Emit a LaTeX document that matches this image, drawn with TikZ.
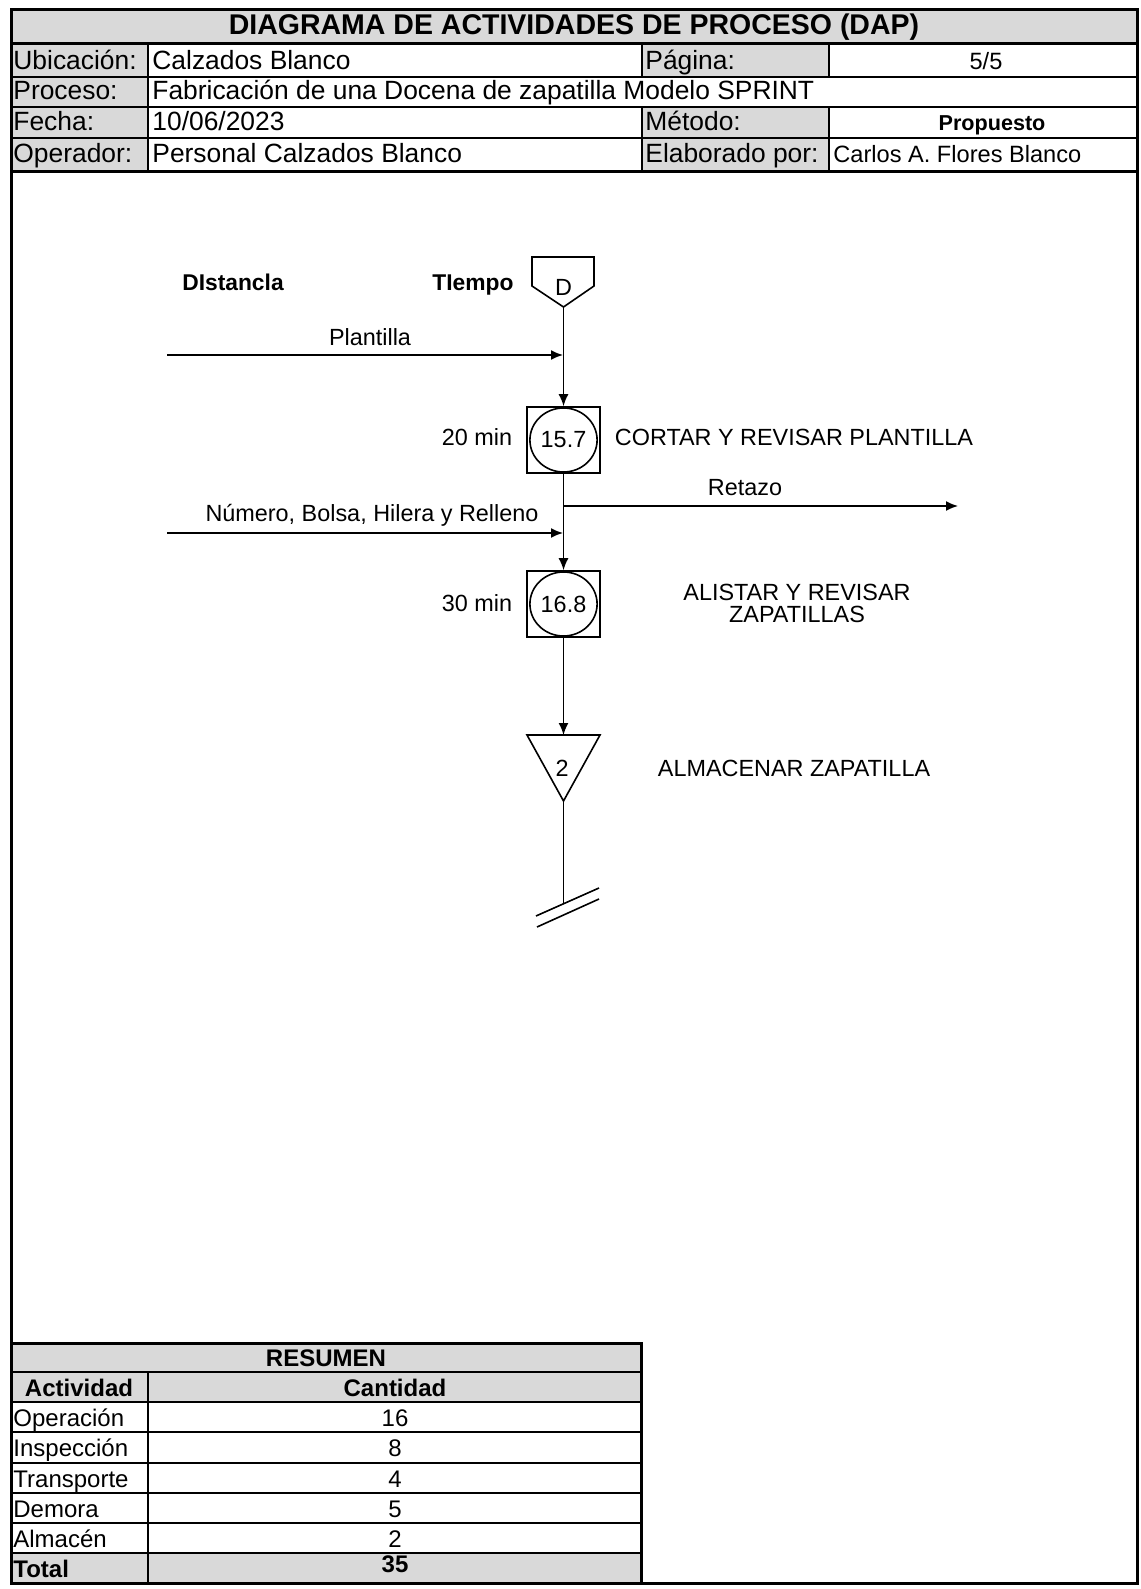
\documentclass[tikz,border=0pt]{standalone}
\usepackage{fontspec}
\setmainfont{Liberation Sans}
\usetikzlibrary{arrows.meta}
\definecolor{cellgray}{HTML}{D9D9D9}
\tikzset{
  thickline/.style={line width=1.5pt, line cap=rect},
  thinline/.style={line width=1pt},
  txt/.style={inner sep=0pt, anchor=base west},
  txtc/.style={inner sep=0pt, anchor=base},
  titlefont/.style={font=\fontsize{14.25}{16}\selectfont\bfseries},
  hfont/.style={font=\fontsize{13.2}{15}\selectfont},
  hsmall/.style={font=\fontsize{11.8}{14}\selectfont},
  hbold/.style={font=\fontsize{10.8}{13}\selectfont\bfseries},
  tfont/.style={font=\fontsize{12}{14}\selectfont},
  tbold/.style={font=\fontsize{12}{14}\selectfont\bfseries},
  ffont/.style={font=\fontsize{11.7}{13}\selectfont},
  fbold/.style={font=\fontsize{11.4}{13}\selectfont\bfseries},
  flowline/.style={line width=0.8pt},
  flowarrow/.style={line width=0.8pt, -{Latex[length=6pt,width=5pt]}},
  opbox/.style={draw, line width=0.8pt, minimum width=36.5pt, minimum height=33pt, inner sep=0pt, font=\fontsize{11.7}{13}\selectfont},
}
\begin{document}
\begin{tikzpicture}[x=0.5pt,y=-0.5pt]
\useasboundingbox (0,0) rectangle (1140,1589);
\fill[white] (0,0) rectangle (1140,1589);

% ---------- header table ----------
\fill[cellgray] (11,10) rectangle (1137,44);
\fill[cellgray] (11,44) rectangle (148,172);
\fill[cellgray] (642,44) rectangle (829,77);
\fill[cellgray] (642,107) rectangle (829,172);

\draw[thinline] (11,77) -- (1137,77);
\draw[thinline] (11,107) -- (1137,107);
\draw[thinline] (11,138) -- (1137,138);
\draw[thinline] (148,44) -- (148,172);
\draw[thinline] (642,44) -- (642,77);
\draw[thinline] (829,44) -- (829,77);
\draw[thinline] (642,107) -- (642,172);
\draw[thinline] (829,107) -- (829,172);
\draw[thickline] (11,44) -- (1137,44);
\draw[thickline] (11,172) -- (1137,172);

\node[txtc, titlefont] (title) at (574,35) {DIAGRAMA DE ACTIVIDADES DE PROCESO (DAP)};
\node[txt, hfont] (lubi) at (13,70) {Ubicación:};
\node[txt, hfont] (vubi) at (152,70) {Calzados Blanco};
\node[txt, hfont] (lpag) at (645,70) {Página:};
\node[txtc, hsmall] (vpag) at (986,70) {5/5};
\node[txt, hfont] (lpro) at (13,100) {Proceso:};
\node[txt, hfont] (vpro) at (152,100) {Fabricación de una Docena de zapatilla Modelo SPRINT};
\node[txt, hfont] (lfec) at (13,131) {Fecha:};
\node[txt, hfont] (vfec) at (152,131) {10/06/2023};
\node[txt, hfont] (lmet) at (645,131) {Método:};
\node[txtc, hbold] (vmet) at (992,131) {Propuesto};
\node[txt, hfont] (lope) at (13,163) {Operador:};
\node[txt, hfont] (vope) at (152,163) {Personal Calzados Blanco};
\node[txt, hfont] (lela) at (645,163) {Elaborado por:};
\node[txt, hsmall] (vela) at (833,163) {Carlos A. Flores Blanco};

% ---------- flow diagram ----------
\node[txtc, fbold] (dist) at (233,290) {DIstancla};
\node[txtc, fbold] (tiem) at (473,290) {TIempo};

% D (start) symbol
\draw[flowline] (532,257) -- (594,257) -- (594,286) -- (563.5,307) -- (532,286) -- cycle;
\coordinate (dbot) at (563.5,307);
\node[txtc, ffont] (dlab) at (563.5,295) {D};

% operation 1
\node[opbox] (op1) at (563.5,440) {15.7};
\draw[flowline] (op1.center) ellipse [x radius=16.8pt, y radius=16pt];
\node[txtc, ffont] (t1) at (477,445) {20 min};
\node[txtc, ffont] (d1) at (794,445) {CORTAR Y REVISAR PLANTILLA};

% operation 2
\node[opbox] (op2) at (563.5,604) {16.8};
\draw[flowline] (op2.center) ellipse [x radius=16.8pt, y radius=16pt];
\node[txtc, ffont] (t2) at (477,611) {30 min};
\node[txtc, ffont] (d2a) at (797,600) {ALISTAR Y REVISAR};
\node[txtc, ffont] (d2b) at (797,622) {ZAPATILLAS};

% storage
\draw[flowline] (527,735) -- (600,735) -- (563.5,801) -- cycle;
\coordinate (sttop) at (563.5,735);
\coordinate (stbot) at (563.5,801);
\node[txtc, ffont] (stn) at (562,776) {2};
\node[txtc, ffont] (d3) at (794,776) {ALMACENAR ZAPATILLA};

% connectors
\coordinate (plS) at (167,355);
\coordinate (plE) at (563,355);
\coordinate (rtS) at (563.5,506);
\coordinate (rtE) at (958,506);
\coordinate (nbS) at (167,533);
\coordinate (nbE) at (563,533);
\coordinate (endc) at (563.5,904);

\draw[flowarrow] (dbot) -- (op1.north);
\draw[flowarrow] (plS) -- (plE);
\node[txtc, ffont] (plab) at (370,345) {Plantilla};
\draw[flowarrow] (op1.south) -- (op2.north);
\draw[flowarrow] (rtS) -- (rtE);
\node[txtc, ffont] (rlab) at (745,495) {Retazo};
\draw[flowarrow] (nbS) -- (nbE);
\node[txtc, ffont] (nlab) at (372,521) {Número, Bolsa, Hilera y Relleno};
\draw[flowarrow] (op2.south) -- (sttop);
\draw[flowline] (stbot) -- (endc);

% end mark
\draw[flowline] (536,916) -- (599,888);
\draw[flowline] (537,927) -- (599,899);

% ---------- summary table ----------
\fill[cellgray] (11,1343) rectangle (641,1402);
\fill[cellgray] (11,1553) rectangle (641,1583);
\foreach \yy in {1372,1402,1432,1463,1493,1523,1553}
  \draw[thinline] (11,\yy) -- (641,\yy);
\draw[thinline] (148,1372) -- (148,1583);
\draw[thickline] (11,1343) -- (641,1343) -- (641,1583);

\node[txtc, tbold] (res) at (326,1366) {RESUMEN};
\node[txtc, tbold] (hact) at (79,1396) {Actividad};
\node[txtc, tbold] (hcan) at (395,1396) {Cantidad};
\node[txt, tfont] (a1) at (13,1426) {Operación};
\node[txtc, tfont] (c1) at (395,1426) {16};
\node[txt, tfont] (a2) at (13,1456) {Inspección};
\node[txtc, tfont] (c2) at (395,1456) {8};
\node[txt, tfont] (a3) at (13,1487) {Transporte};
\node[txtc, tfont] (c3) at (395,1487) {4};
\node[txt, tfont] (a4) at (13,1517) {Demora};
\node[txtc, tfont] (c4) at (395,1517) {5};
\node[txt, tfont] (a5) at (13,1547) {Almacén};
\node[txtc, tfont] (c5) at (395,1547) {2};
\node[txt, tbold] (a6) at (13,1577) {Total};
\node[txtc, tbold] (c6) at (395,1572) {35};

% outer frame
\draw[thickline] (11,10) rectangle (1137,1583);
\end{tikzpicture}
\end{document}
